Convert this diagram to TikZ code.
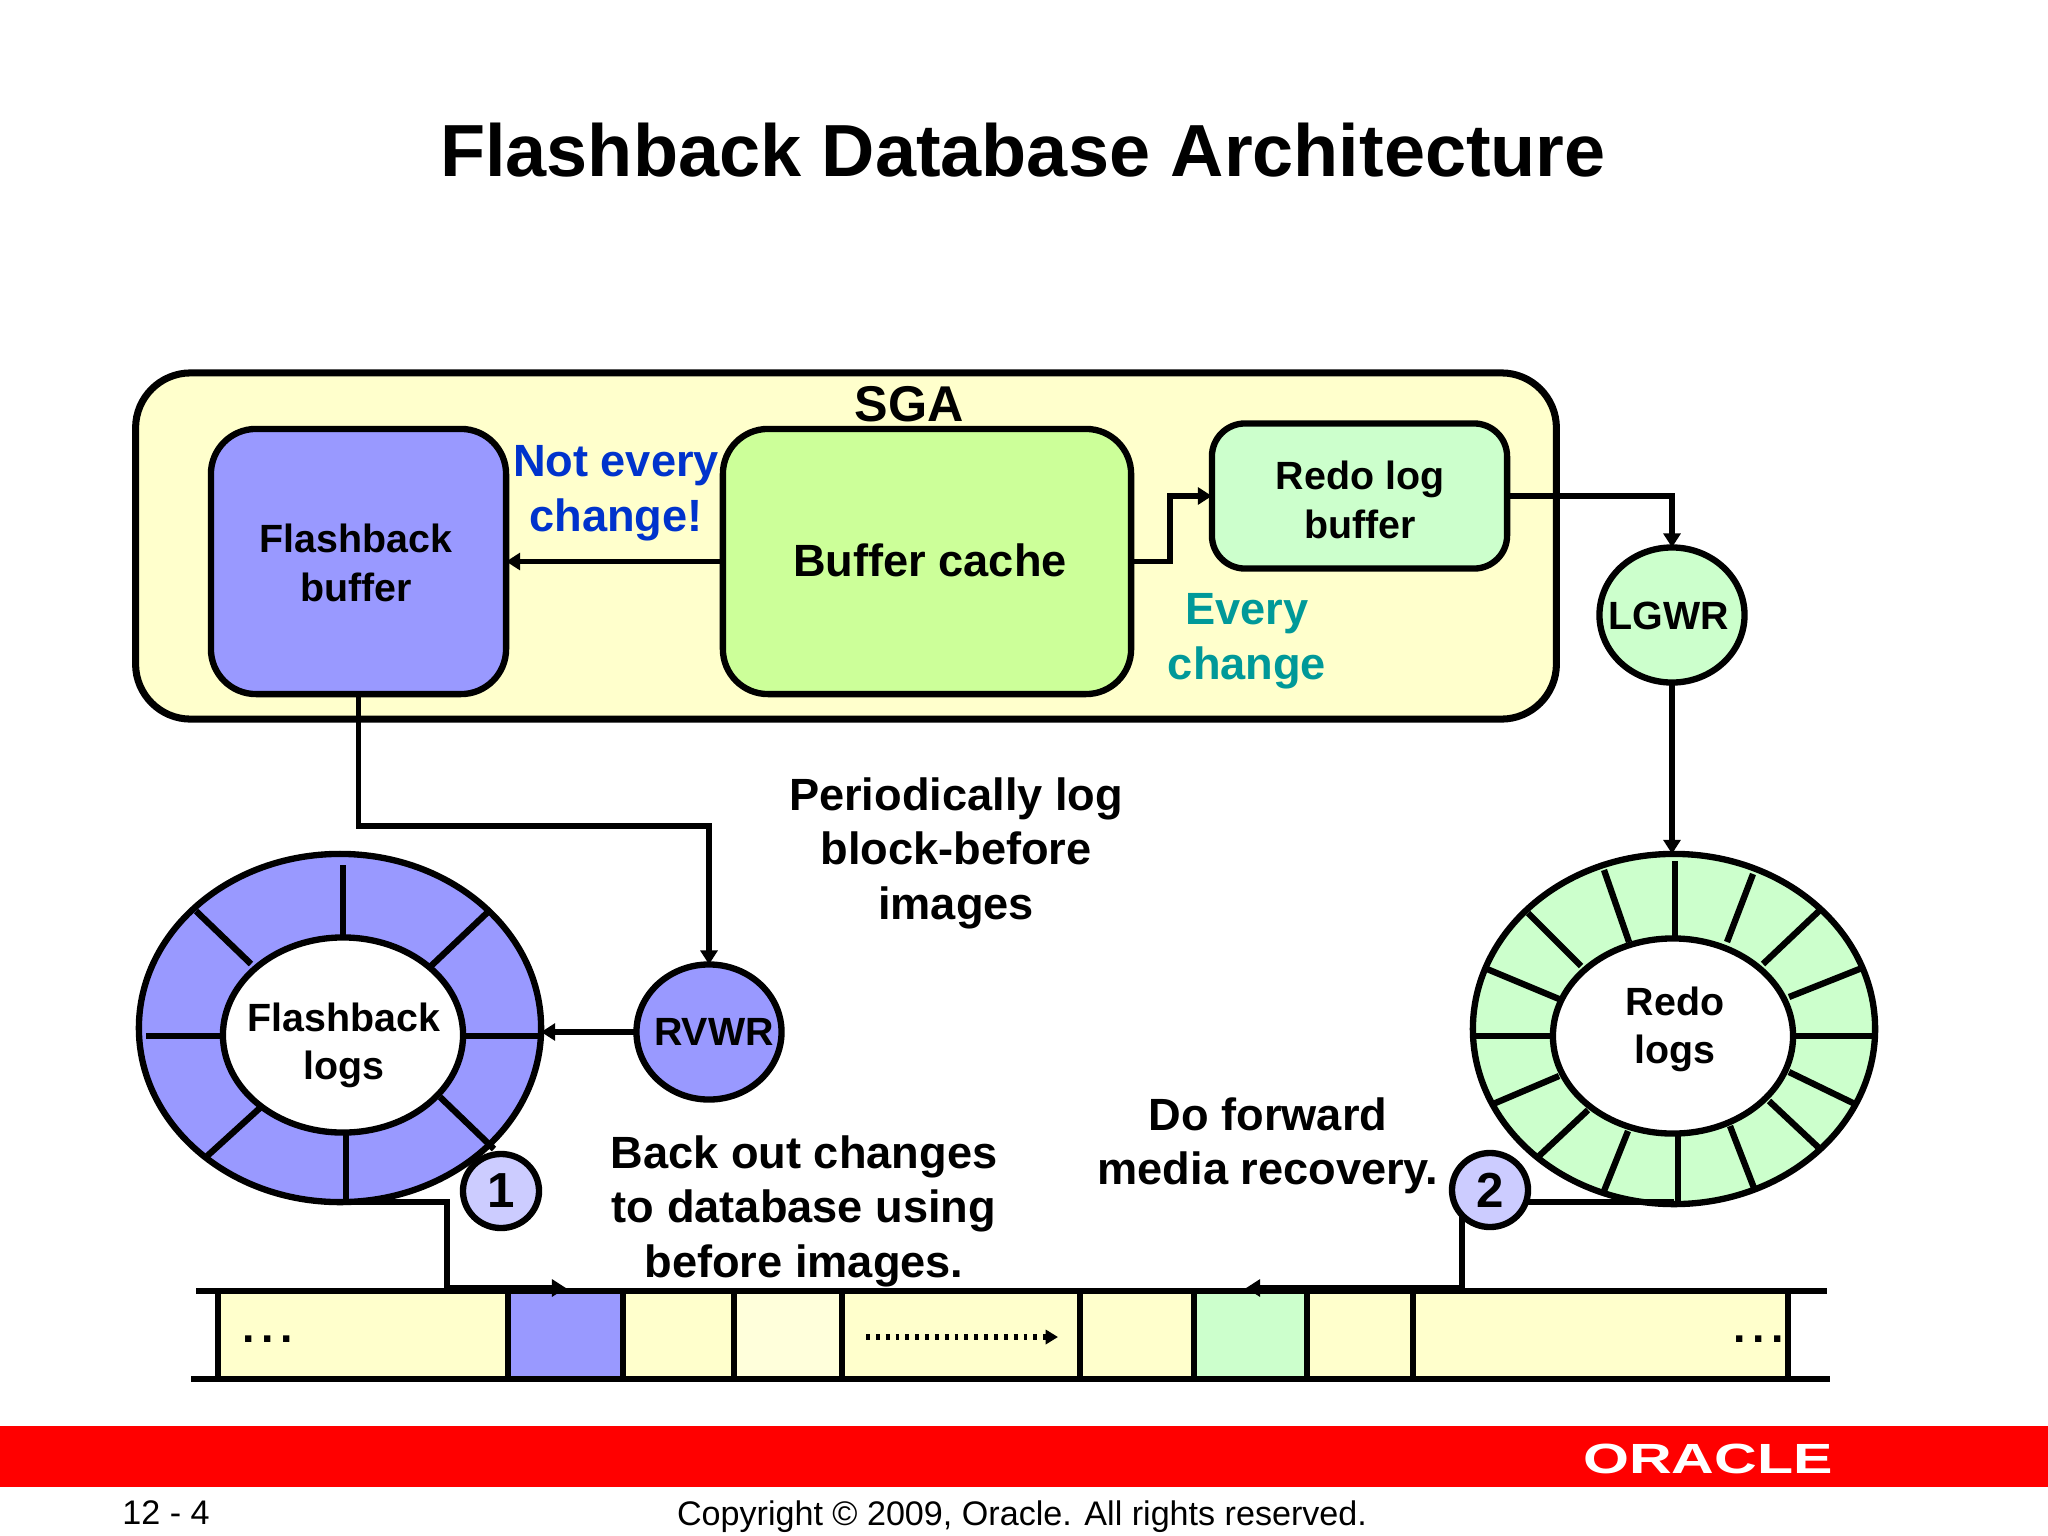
\documentclass[tikz,border=0pt]{standalone}
\usepackage{fontspec}
\usepackage{graphicx}
\setmainfont{Liberation Sans}
\usetikzlibrary{arrows.meta,shapes.geometric}
\definecolor{sgayellow}{HTML}{FFFFCC}
\definecolor{flashblue}{HTML}{9999FF}
\definecolor{redogreen}{HTML}{CCFFCC}
\definecolor{cachegreen}{HTML}{CCFF99}
\definecolor{stepblue}{HTML}{CCCCFF}
\definecolor{notblue}{HTML}{0033CC}
\definecolor{everyteal}{HTML}{009999}
\tikzset{
	box/.style={draw, line width=1.8pt, inner sep=0pt, outer sep=0pt, align=center},
	lbl/.style={font=\bfseries\fontsize{11.2}{13.7}\selectfont, align=center},
	txt/.style={font=\bfseries\fontsize{12.85}{15.5}\selectfont, align=center},
	blob/.style={box, ellipse},
	flow/.style={line width=1.7pt, -{Triangle[length=4pt,width=4.8pt]}},
	spoke/.style={line width=1.8pt},
}
\begin{document}
\begin{tikzpicture}[x=0.01cm, y=-0.01cm]
	\useasboundingbox (0, 0) rectangle (2048, 1536);
	
	\node[font=\bfseries\fontsize{21}{25}\selectfont] (title) at (1023, 150) {Flashback Database Architecture};
	
	% SGA and what is inside it
	\node[box, fill=sgayellow, line width=2pt, rounded corners=0.55cm, minimum width=14.2cm, minimum height=3.46cm] (sga) at (846, 546) {};
	\node[font=\bfseries\fontsize{14.3}{17}\selectfont] (sgalabel) at (909, 404) {SGA};
	\node[box, fill=flashblue, rounded corners=0.45cm, minimum width=2.95cm, minimum height=2.65cm] (flashbuf) at (358.5, 561.5) {};
	\node[lbl] (flashbuftext) at (356, 563) {Flashback\\buffer};
	\node[box, fill=cachegreen, rounded corners=0.45cm, minimum width=4.08cm, minimum height=2.65cm] (cache) at (927, 561.5) {};
	\node[txt] (cachetext) at (930, 560) {Buffer cache};
	\node[box, fill=redogreen, rounded corners=0.33cm, minimum width=2.95cm, minimum height=1.45cm] (redobuf) at (1359.5, 496) {};
	\node[lbl] (redobuftext) at (1360, 500) {Redo log\\buffer};
	\node[txt, text=notblue] (notevery) at (616, 493) {Not every\\change!};
	\node[txt, text=everyteal] (every) at (1247, 641) {Every\\change};
	
	% processes
	\node[blob, fill=redogreen, minimum width=1.45cm, minimum height=1.35cm] (lgwr) at (1672, 615) {};
	\node[lbl] (lgwrtext) at (1669, 616) {LGWR};
	\node[blob, fill=flashblue, minimum width=1.45cm, minimum height=1.35cm] (rvwr) at (709, 1032) {};
	\node[lbl] (rvwrtext) at (714, 1032) {RVWR};
	
	% log rings
	\node[blob, fill=flashblue, minimum width=4.02cm, minimum height=3.48cm] (flashring) at (340, 1028) {};
	\foreach \xa/\ya/\xb/\yb in {343/865/343/938, 490/910/431/966, 464/1036/542/1036, 440/1097/494/1149, 346/1131/346/1202, 205/1158/261/1107, 146/1036/225/1036, 196/911/251/964}
		\draw[spoke] (\xa, \ya) -- (\xb, \yb);
	\node[blob, fill=white, minimum width=2.4cm, minimum height=1.95cm] (flashlogs) at (343, 1035) {};
	\node[lbl] (flashlogstext) at (344, 1045) {Flashback\\logs};
	
	\node[blob, fill=redogreen, minimum width=4.02cm, minimum height=3.5cm] (redoring) at (1674, 1029) {};
	\foreach \xa/\ya/\xb/\yb in {1675/861/1675/937, 1753/874/1727/942, 1820/910/1763/964, 1862/968/1789/997, 1875/1036/1795/1036, 1855/1104/1789/1072, 1819/1148/1769/1101, 1754/1188/1730/1126, 1678/1201/1678/1136, 1604/1191/1628/1131, 1539/1156/1588/1110, 1493/1104/1559/1076, 1473/1036/1553/1036, 1487/969/1559/999, 1528/913/1581/966, 1604/870/1629/942}
		\draw[spoke] (\xa, \ya) -- (\xb, \yb);
	\node[blob, fill=white, minimum width=2.4cm, minimum height=1.95cm] (redologs) at (1673, 1036) {};
	\node[lbl] (redologstext) at (1675, 1029) {Redo\\logs};
	
	% numbered steps
	\node[blob, fill=stepblue, font=\bfseries\fontsize{14}{17}\selectfont, minimum width=0.76cm, minimum height=0.74cm] (one) at (501, 1191) {1};
	\node[blob, fill=stepblue, font=\bfseries\fontsize{14}{17}\selectfont, minimum width=0.76cm, minimum height=0.74cm] (two) at (1490, 1190) {2};
	
	% database blocks
	\foreach \xa/\xb/\col in {218/508/sgayellow, 508/623/flashblue, 623/734/sgayellow, 734/842/sgayellow!70!white, 842/1080/sgayellow, 1080/1194/sgayellow, 1194/1307/redogreen, 1307/1413/sgayellow, 1413/1788/sgayellow}
		\draw[fill=\col, line width=1.8pt] (\xa, 1291) rectangle (\xb, 1379);
	\coordinate (topl) at (196, 1291);
	\coordinate (topr) at (1827, 1291);
	\coordinate (botl) at (191, 1379);
	\coordinate (botr) at (1830, 1379);
	\draw[line width=1.9pt] (topl) -- (topr);
	\draw[line width=1.9pt] (botl) -- (botr);
	\coordinate (flashcell) at (566, 1288);
	\coordinate (redocell) at (1246, 1288);
	\coordinate (scanl) at (866, 1337);
	\coordinate (scanr) at (1058, 1337);
	\draw[line width=1.6pt, dash pattern=on 1.1pt off 1.7pt, -{Triangle[length=3.5pt,width=4pt]}] (scanl) -- (scanr);
	\node[font=\bfseries\fontsize{12.7}{15}\selectfont] (dotsl) at (268, 1339) {\addfontfeature{LetterSpace=15}...};
	\node[font=\bfseries\fontsize{12.7}{15}\selectfont] (dotsr) at (1759, 1339) {\addfontfeature{LetterSpace=15}...};
	
	% connectors
	\draw[flow] (cache.west) -- (flashbuf.east);
	\draw[flow] (cache.east) -- ++(39, 0) |- (redobuf.west);
	\draw[flow] (redobuf.east) -| (lgwr.north);
	\draw[flow] (lgwr.south) -- (lgwr.south |- redoring.north);
	\draw[flow] (flashbuf.south) -- ++(0, 132) -| (rvwr.north);
	\draw[flow] (rvwr.west) -- (rvwr.west -| flashring.east);
	\draw[flow] (flashring.south) -- ++(107, 0) |- (flashcell);
	\draw[line width=1.7pt] (two.-18) -- (two.-18 -| redoring.south);
	\draw[flow] (two.-139) |- (redocell);
	
	% captions
	\node[txt] (periodic) at (956, 853) {Periodically log\\block-before\\images};
	\node[txt] (backout) at (804, 1211) {Back out changes\\to database using\\before images.};
	\node[txt] (forward) at (1268, 1146) {Do forward\\media recovery.};
	
	% footer
	\fill[red] (0, 1426) rectangle (2048, 1487);
	\node[text=white, font=\bfseries\fontsize{12}{14}\selectfont] (oracle) at (1708, 1459) {\scalebox{1.4}[1]{ORACLE}};
	\node[font=\fontsize{9.7}{12}\selectfont] (pagenum) at (166, 1513) {12 - 4};
	\node[font=\fontsize{9.7}{12}\selectfont] (copyright) at (1022, 1517) {Copyright © 2009, Oracle. All rights reserved.};
\end{tikzpicture}
\end{document}
